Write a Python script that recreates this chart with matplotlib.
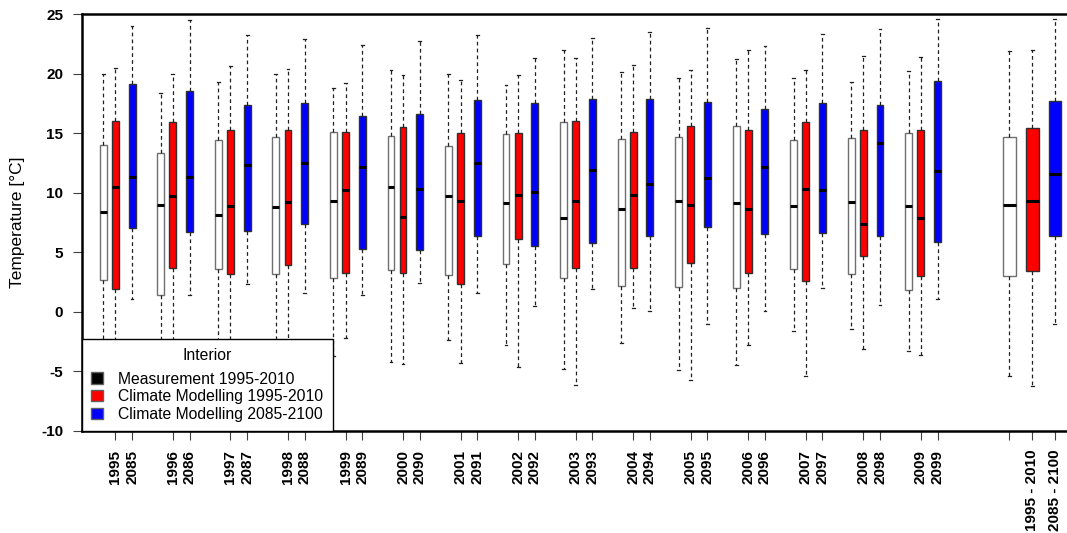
import matplotlib
matplotlib.use('Agg')
import matplotlib.pyplot as plt
from matplotlib.patches import Patch

plt.rcParams['font.family'] = ['Liberation Sans', 'DejaVu Sans']

# ==================== DATA ====================
years = [1995, 1996, 1997, 1998, 1999, 2000, 2001, 2002,
         2003, 2004, 2005, 2006, 2007, 2008, 2009]
future_years = [2085, 2086, 2087, 2088, 2089, 2090, 2091, 2092,
                2093, 2094, 2095, 2096, 2097, 2098, 2099]
total_labels = ['1995 - 2010', '2085 - 2100']

# whisker low, Q1, median, Q3, whisker high (per year, then the 1995-2010 / 2085-2100 total)
meas_lo  = [-4.0, -4.5, -3.8, -4.2, -3.7, -4.2, -2.4, -2.8, -4.8, -2.6, -4.9, -4.5, -1.6, -1.4, -3.3, -5.4]
meas_q1  = [2.7, 1.4, 3.6, 3.2, 2.8, 3.5, 3.1, 4.0, 2.8, 2.2, 2.1, 2.0, 3.6, 3.2, 1.8, 3.0]
meas_med = [8.4, 9.0, 8.1, 8.8, 9.3, 10.5, 9.7, 9.1, 7.9, 8.6, 9.3, 9.1, 8.9, 9.2, 8.9, 9.0]
meas_q3  = [14.0, 13.3, 14.4, 14.7, 15.1, 14.8, 13.9, 14.9, 15.9, 14.5, 14.7, 15.6, 14.4, 14.6, 15.0, 14.7]
meas_hi  = [20.0, 18.4, 19.3, 20.0, 18.8, 20.3, 20.0, 19.0, 22.0, 20.1, 19.6, 21.2, 19.6, 19.3, 20.2, 21.9]

mod_lo  = [-4.2, -3.0, -4.4, -3.6, -2.2, -4.4, -4.3, -4.6, -6.1, 0.3, -5.7, -2.8, -5.4, -3.1, -3.6, -6.2]
mod_q1  = [1.9, 3.7, 3.2, 3.9, 3.3, 3.3, 2.3, 6.1, 3.7, 3.7, 4.1, 3.3, 2.6, 4.7, 3.0, 3.4]
mod_med = [10.5, 9.7, 8.9, 9.2, 10.2, 8.0, 9.3, 9.8, 9.3, 9.8, 9.0, 8.6, 10.3, 7.4, 7.9, 9.3]
mod_q3  = [16.0, 15.9, 15.3, 15.3, 15.1, 15.5, 15.0, 15.0, 16.0, 15.1, 15.6, 15.3, 15.9, 15.3, 15.3, 15.4]
mod_hi  = [20.5, 20.0, 20.6, 20.4, 19.2, 19.9, 19.5, 19.9, 21.3, 20.7, 20.3, 22.0, 20.3, 21.5, 21.4, 22.0]

fut_lo  = [1.1, 1.4, 2.3, 1.6, 1.4, 2.4, 1.6, 0.5, 1.9, 0.1, -1.0, 0.1, 2.0, 0.6, 1.1, -1.0]
fut_q1  = [7.0, 6.7, 6.8, 7.4, 5.3, 5.2, 6.4, 5.5, 5.8, 6.4, 7.1, 6.5, 6.6, 6.4, 5.9, 6.4]
fut_med = [11.3, 11.3, 12.3, 12.5, 12.2, 10.3, 12.5, 10.1, 11.9, 10.7, 11.2, 12.2, 10.2, 14.2, 11.8, 11.6]
fut_q3  = [19.1, 18.5, 17.4, 17.5, 16.4, 16.6, 17.8, 17.5, 17.9, 17.9, 17.6, 17.0, 17.5, 17.4, 19.4, 17.7]
fut_hi  = [24.0, 24.5, 23.2, 22.9, 22.4, 22.7, 23.2, 21.3, 23.0, 23.5, 23.8, 22.3, 23.3, 23.7, 24.6, 24.6]

# ==================== POSITIONS ====================
n = len(years)
pos_meas = [i for i in range(n)] + [15.75]
pos_mod = [i + 0.21 for i in range(n)] + [16.15]
pos_fut = [i + 0.50 for i in range(n)] + [16.54]
widths = [0.12] * n + [0.21]


def make_stats(lo, q1, med, q3, hi):
    return [dict(whislo=a, q1=b, med=c, q3=d, whishi=e)
            for a, b, c, d, e in zip(lo, q1, med, q3, hi)]


# ==================== PLOT ====================
fig = plt.figure(figsize=(10.67, 5.33), dpi=100)
ax = fig.add_axes([82 / 1067, 102 / 533, 985 / 1067, 417 / 533])

series = [
    (make_stats(meas_lo, meas_q1, meas_med, meas_q3, meas_hi), pos_meas, 'white', '#707070'),
    (make_stats(mod_lo, mod_q1, mod_med, mod_q3, mod_hi), pos_mod, '#ff0000', '#303030'),
    (make_stats(fut_lo, fut_q1, fut_med, fut_q3, fut_hi), pos_fut, '#0000ff', '#303030'),
]

for stats, pos, fc, ec in series:
    ax.bxp(stats, positions=pos, widths=widths, capwidths=0.05,
           patch_artist=True, showfliers=False, manage_ticks=False,
           boxprops=dict(facecolor=fc, edgecolor=ec, linewidth=1),
           medianprops=dict(color='black', linewidth=2.2, solid_capstyle='butt'),
           whiskerprops=dict(color='#202020', linewidth=0.9, dashes=(3, 2.5)),
           capprops=dict(color='#202020', linewidth=0.9))

ax.set_xlim(-0.37, 16.75)
ax.set_ylim(-10, 25)

# x ticks: red and blue positions get year labels, the last white one is unlabelled
xt = pos_mod[:n] + pos_fut[:n] + [pos_meas[-1], pos_mod[-1], pos_fut[-1]]
xl = [str(y) for y in years] + [str(y) for y in future_years] + [''] + total_labels
ax.set_xticks(xt)
ax.set_xticklabels(xl, rotation=90, fontweight='bold', fontsize=11)
ax.tick_params(axis='x', length=6.5, width=0.8, color='#404040', pad=7)

ax.set_yticks(range(-10, 26, 5))
ax.set_yticklabels([str(v) for v in range(-10, 26, 5)], fontweight='bold', fontsize=11)
ax.tick_params(axis='y', length=6.5, width=0.8, color='#404040', pad=7)

ax.set_ylabel('Temperature [°C]', fontsize=12.5)
ax.yaxis.set_label_coords(-0.058, 0.5)

for side in ['left', 'top', 'bottom']:
    ax.spines[side].set_linewidth(1.8)
ax.spines['right'].set_visible(False)

handles = [Patch(facecolor='black', edgecolor='#606060'),
           Patch(facecolor='#ff0000', edgecolor='#606060'),
           Patch(facecolor='#0000ff', edgecolor='#606060')]
leg = ax.legend(handles, ['Measurement 1995-2010', 'Climate Modelling 1995-2010',
                          'Climate Modelling 2085-2100'],
                title='Interior', loc='lower left', bbox_to_anchor=(0, 0),
                borderaxespad=0, fontsize=11.3, title_fontsize=11.3,
                handlelength=0.72, handleheight=0.72, handletextpad=1.0,
                labelspacing=0.16, fancybox=False, framealpha=1,
                edgecolor='black', borderpad=0.6)
leg.get_frame().set_linewidth(1)
leg._legend_box.sep = 6

fig.savefig('out.png', dpi=100)
